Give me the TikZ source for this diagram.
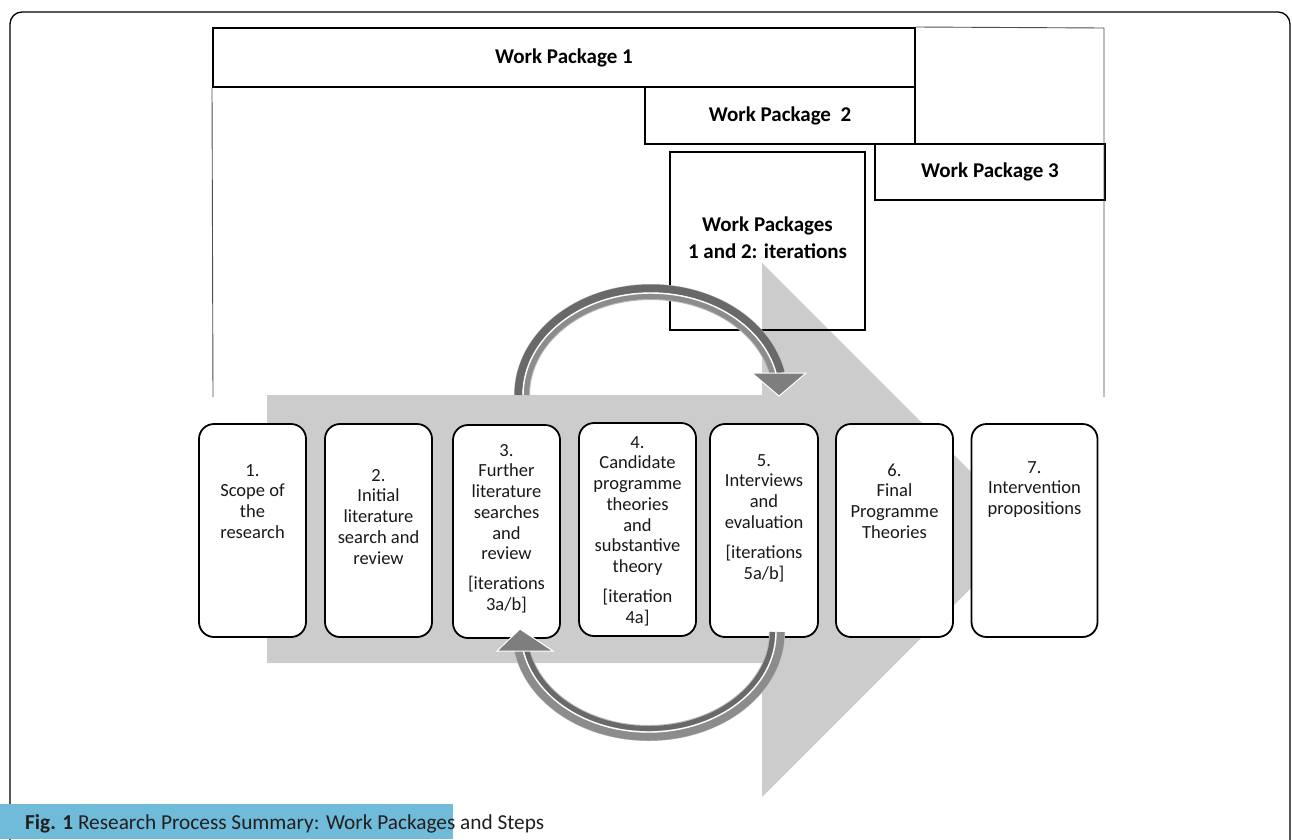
\documentclass[tikz,border=0pt]{standalone}
\usepackage{fontspec}
\setmainfont{Carlito}
\definecolor{arrowgray}{RGB}{204,204,204}
\definecolor{capblue}{RGB}{112,187,217}
\definecolor{captext}{RGB}{35,31,32}
\definecolor{ribdark}{RGB}{105,105,105}
\definecolor{ribmid}{RGB}{140,140,140}
\definecolor{ribedge}{RGB}{185,185,185}
\newcommand{\myarc}[7]{\draw[#7] ({#1+(#3)*cos(#5)},{#2+(#4)*sin(#5)}) arc[start angle=#5,end angle=#6,x radius=#3,y radius=#4];}
\begin{document}
\begin{tikzpicture}[x=1pt,y=-1pt,
  wp/.style={draw=black,line width=2pt,font=\fontsize{21}{27}\selectfont\bfseries,align=center,inner sep=0pt},
  stepbox/.style={draw=black,line width=1.8pt,fill=white,rounded corners=15pt,inner sep=0pt},
  steptext/.style={anchor=north,align=center,inner sep=0pt,font=\fontsize{18.5}{20.7}\selectfont,text=black!90},
  thinline/.style={draw=black!70,line width=0.9pt},
  rhead/.style={fill=ribmid!90!black,draw=white,line width=1pt,line join=miter}]
\useasboundingbox (0,0) rectangle (1292,839);
% outer frame
\draw[line width=1.3pt,rounded corners=12pt] (10,850) -- (10,12) -- (1290,12) -- (1290,850);
% work packages
\node[wp,minimum width=702pt,minimum height=59pt] (wp1) at (564,57.5) {Work Package 1};
\node[wp,minimum width=270pt,minimum height=57pt] (wp2) at (780,115.5) {Work Package~~2};
\node[wp,minimum width=230pt,minimum height=56pt] (wp3) at (990,172) {Work Package 3};
\coordinate (tr) at (1104,28);
\coordinate (br) at (1104,397);
\coordinate (bl) at (213,397);
\draw[thinline] (wp1.north east) -- (tr) -- (br);
\draw[thinline] (wp1.south west) -- (bl);
% big grey arrow
\fill[arrowgray] (267,395) -- (762,395) -- (762,263) -- (1029,530) -- (762,797) -- (762,663) -- (267,663) -- cycle;
% iterations box
\node[wp,line width=2.5pt,minimum width=195pt,minimum height=178pt] (wpi) at (767.5,241) {};
\node[font=\fontsize{21}{27}\selectfont\bfseries,align=center,inner sep=0pt] (wpit) at (767.5,238) {Work Packages\\1 and 2: iterations};
% top ribbon arrow
\myarc{651}{395}{129}{103}{180}{348}{ribedge,line width=16pt}
\myarc{651}{395}{132.5}{106.5}{180}{348}{ribdark,line width=8pt}
\myarc{651}{395}{128}{102}{180}{348}{white,line width=1.4pt}
\myarc{651}{395}{124.5}{98.5}{180}{348}{ribmid,line width=5pt}
\draw[rhead] (752,373) -- (806,373) -- (779,396) -- cycle;
% step boxes
\node[stepbox,minimum width=107pt,minimum height=213pt] (s1) at (252.5,530.5) {};
\node[stepbox,minimum width=107pt,minimum height=213pt] (s2) at (378.5,530.5) {};
\node[stepbox,minimum width=107pt,minimum height=213pt] (s3) at (506.5,531.5) {};
\node[stepbox,minimum width=117pt,minimum height=213pt] (s4) at (637.5,529.5) {};
\node[stepbox,minimum width=108pt,minimum height=213pt] (s5) at (764,530.5) {};
\node[stepbox,minimum width=117pt,minimum height=213pt] (s6) at (894.5,530.5) {};
\node[stepbox,minimum width=126pt,minimum height=213pt] (s7) at (1034.5,530.5) {};
\node[steptext] (t1) at (252.5,461.5) {\strut 1.\\Scope of\\the\\research};
\node[steptext] (t2) at (378.5,466.5) {\strut 2.\\Initial\\literature\\search and\\review};
\node[steptext] (t3) at (506.5,441.5) {\strut 3.\\Further\\literature\\searches\\and\\review\\[9.3pt][iterations\\3a/b]};
\node[steptext] (t4) at (637.5,433.5) {\strut 4.\\Candidate\\programme\\theories\\and\\substantive\\theory\\[9.3pt][iteration\\4a]};
\node[steptext] (t5) at (764,451.5) {\strut 5.\\Interviews\\and\\evaluation\\[9.3pt][iterations\\5a/b]};
\node[steptext] (t6) at (894.5,461.5) {\strut 6.\\Final\\Programme\\Theories};
\node[steptext] (t7) at (1034.5,458.5) {\strut 7.\\Intervention\\propositions};
% bottom ribbon arrow
\myarc{648.5}{632}{128.5}{101}{0}{169.7}{ribedge,line width=16pt}
\myarc{648.5}{632}{132}{104.5}{0}{169.7}{ribmid,line width=8pt}
\myarc{648.5}{632}{127.5}{100}{0}{169.7}{white,line width=1.4pt}
\myarc{648.5}{632}{124}{96.5}{0}{169.7}{ribdark,line width=5pt}
\draw[rhead] (497,651) -- (553,651) -- (520,629) -- cycle;
% caption
\fill[capblue] (0,804) rectangle (453,839);
\node[anchor=base west,inner sep=0pt,font=\fontsize{21.3}{25}\selectfont,text=captext] (cap) at (25,829) {\textbf{Fig. 1} Research Process Summary: Work Packages and Steps};
\end{tikzpicture}
\end{document}
